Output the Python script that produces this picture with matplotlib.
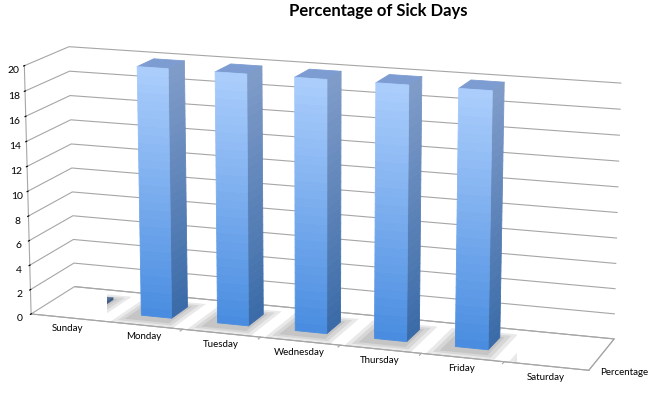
import numpy as np
import matplotlib
matplotlib.use("Agg")
import matplotlib.pyplot as plt
from matplotlib.colors import to_rgba

days = ["Sunday", "Monday", "Tuesday", "Wednesday", "Thursday", "Friday", "Saturday"]
percentage = [0, 20, 20, 20, 20, 20, 0]
series_name = "Percentage"
z_ticks = list(range(0, 21, 2))
title = "Percentage of Sick Days"

plt.rcParams['font.family'] = ['Lato', 'DejaVu Sans']

fig = plt.figure(figsize=(6.72, 4.10), dpi=100)
ax = fig.add_subplot(projection='3d')
ax.set_position([-0.035, -0.008, 1.0, 1.0])
ax.set_proj_type('persp', focal_length=1.2)
ax.view_init(elev=14, azim=-71)
ax.set_box_aspect((7, 1.3, 3.1), zoom=1.54)
ax.computed_zorder = False

ax.set_xlim(-0.5, len(days) - 0.5)
ax.set_ylim(0, 1)
ax.set_zlim(0, 20)

# walls and floor
grid_col = '#a6a6a6'
for a in (ax.xaxis, ax.yaxis, ax.zaxis):
    a.set_pane_color((1, 1, 1, 1))
    a.pane.set_edgecolor('none')
    a.line.set_color(grid_col)
    a.line.set_linewidth(0.8)
ax.zaxis.pane.set_edgecolor(grid_col)
ax.zaxis.pane.set_linewidth(0.8)
ax.grid(True)
ax.xaxis._axinfo['grid']['linewidth'] = 0
ax.yaxis._axinfo['grid']['linewidth'] = 0
ax.zaxis._axinfo['grid'].update(color=grid_col, linewidth=0.8)
ax.xaxis._axinfo['tick']['inward_factor'] = 0
ax.xaxis._axinfo['tick']['outward_factor'] = 0
ax.yaxis._axinfo['tick']['inward_factor'] = 0
ax.yaxis._axinfo['tick']['outward_factor'] = 0
ax.zaxis.set_ticks_position('lower')
ax.tick_params(axis='x', pad=-5)
ax.tick_params(axis='y', pad=-2)
ax.tick_params(axis='z', pad=-5)

ax.set_xticks(range(len(days)))
ax.set_xticklabels(days, fontsize=7)
ax.set_yticks([0.5])
ax.set_yticklabels([series_name], fontsize=7)
ax.set_zticks(z_ticks)
ax.set_zticklabels([str(t) for t in z_ticks], fontsize=7.5)

# category tick marks at boundaries
for b in np.arange(-0.5, len(days)):
    ax.plot([b, b], [0, -0.06], [0, 0], color=grid_col, lw=0.8, zorder=1)

# bars with vertical gradient
light_front = np.array(to_rgba('#aacdfc'))
dark_front = np.array(to_rgba('#4a8de0'))
light_side = np.array(to_rgba('#7f9cc9'))
dark_side = np.array(to_rgba('#3b6ba8'))
top_col = to_rgba('#7d9cd2')
flat_col = to_rgba('#56709c')
flat_edge = to_rgba('#3f5a86')
shadow_col = (0.3, 0.3, 0.3, 0.12)
clear = (0, 0, 0, 0)
n_seg = 30
bw, bd, y0 = 0.4, 0.4, 0.3

for i, v in enumerate(percentage):
    x0 = i - bw / 2
    # soft shadow on the floor, a little to the front-left
    for pad in [0.2, 0.14, 0.08]:
        cols = [clear, shadow_col, clear, clear, clear, clear]
        ax.bar3d(x0 - pad - 0.05, y0 - pad - 0.08, 0, bw + 2 * pad + 0.02,
                 bd + 2 * pad + 0.03, 0, color=cols, edgecolor='none',
                 shade=False, zorder=3)
for i, v in enumerate(percentage):
    x0 = i - bw / 2
    if v == 0:
        # a zero value still shows as a thin flat tile
        cols = [clear, flat_col, flat_edge, clear, clear, flat_edge]
        ax.bar3d(x0, y0, 0, bw, bd, 0.15, color=cols, edgecolor=cols, linewidth=0.5,
                 shade=False, zorder=50)
        continue
    for k in range(n_seg):
        t = k / (n_seg - 1)
        f = tuple(dark_front + (light_front - dark_front) * t)
        s = tuple(dark_side + (light_side - dark_side) * t)
        top = top_col if k == n_seg - 1 else clear
        cols = [clear, top, f, clear, clear, s]
        ax.bar3d(x0, y0, v * k / n_seg, bw, bd, v / n_seg, color=cols, edgecolor=cols,
                 linewidth=0.6, shade=False, zorder=10 + i)

fig.text(0.5625, 0.972, title, ha='center', va='center', fontsize=12, fontweight='bold')

fig.savefig("out.png", dpi=100)
